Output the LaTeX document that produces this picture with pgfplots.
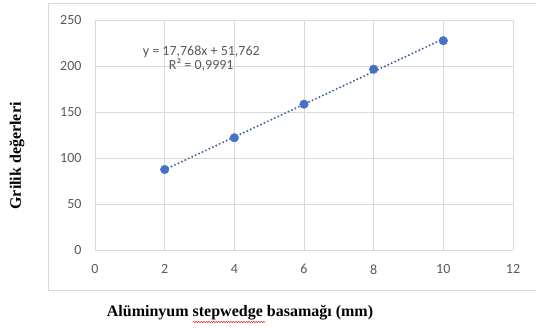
\documentclass[border=0pt]{standalone}
\usepackage{pgfplots}
\pgfplotsset{compat=1.18}
\usepackage{fontspec}
\setmainfont{Carlito}
\newfontfamily\timesfont{Liberation Serif}
\usetikzlibrary{decorations.pathmorphing}
\definecolor{excelblue}{HTML}{4472C4}
\definecolor{trendblue}{HTML}{41609E}
\definecolor{gridgray}{HTML}{D9D9D9}
\definecolor{textgray}{HTML}{595959}
\definecolor{bordergray}{HTML}{D9D9D9}
\begin{document}
\begin{tikzpicture}[x=1pt,y=1pt]
\path[use as bounding box] (0,0) rectangle (536,327);
% chart border (cropped on the right)
\draw[bordergray, line width=0.8pt] (536,324) -- (48,324) -- (48,37) -- (536,37);
\begin{axis}[
  at={(95pt,77pt)}, anchor=south west,
  width=418pt, height=230pt, scale only axis,
  xmin=0, xmax=12, ymin=0, ymax=250,
  xtick={0,2,4,6,8,10,12},
  ytick={0,50,100,150,200,250},
  grid=major,
  major grid style={gridgray, line width=0.7pt},
  axis line style={draw=none},
  major tick length=0pt,
  /pgf/number format/assume math mode=true,
  tick label style={font=\fontsize{14}{16}\selectfont, text=textgray},
  yticklabel style={xshift=-10pt},
  xticklabel style={yshift=-11pt},
  clip=false,
]
\addplot[trendblue, line width=2.2pt, dash pattern=on 0pt off 3.8pt, line cap=round] coordinates {(2,87.298) (10,229.442)};
\addplot[only marks, mark=*, mark size=4.3pt, mark options={fill=excelblue, draw=excelblue}] coordinates {
(2,87.5) (4,122) (6,158.5) (8,196.5) (10,227.5)};
\node[align=center, text=textgray, font=\fontsize{14}{11.5}\selectfont, inner sep=0pt] at (axis cs:3.05,208) {y = 17,768x + 51,762\\R² = 0,9991};
\end{axis}
\node[rotate=90, font=\timesfont\bfseries\fontsize{16}{18}\selectfont, inner sep=0pt] at (17,171) {Grilik değerleri};
\node[font=\timesfont\bfseries\fontsize{16}{18}\selectfont, inner sep=0pt] at (240,14) {Alüminyum stepwedge basamağı (mm)};
\draw[red!85!black, line width=0.5pt, decorate, decoration={snake, amplitude=0.6pt, segment length=2.5pt}] (193,5) -- (265,5);
\end{tikzpicture}
\end{document}
